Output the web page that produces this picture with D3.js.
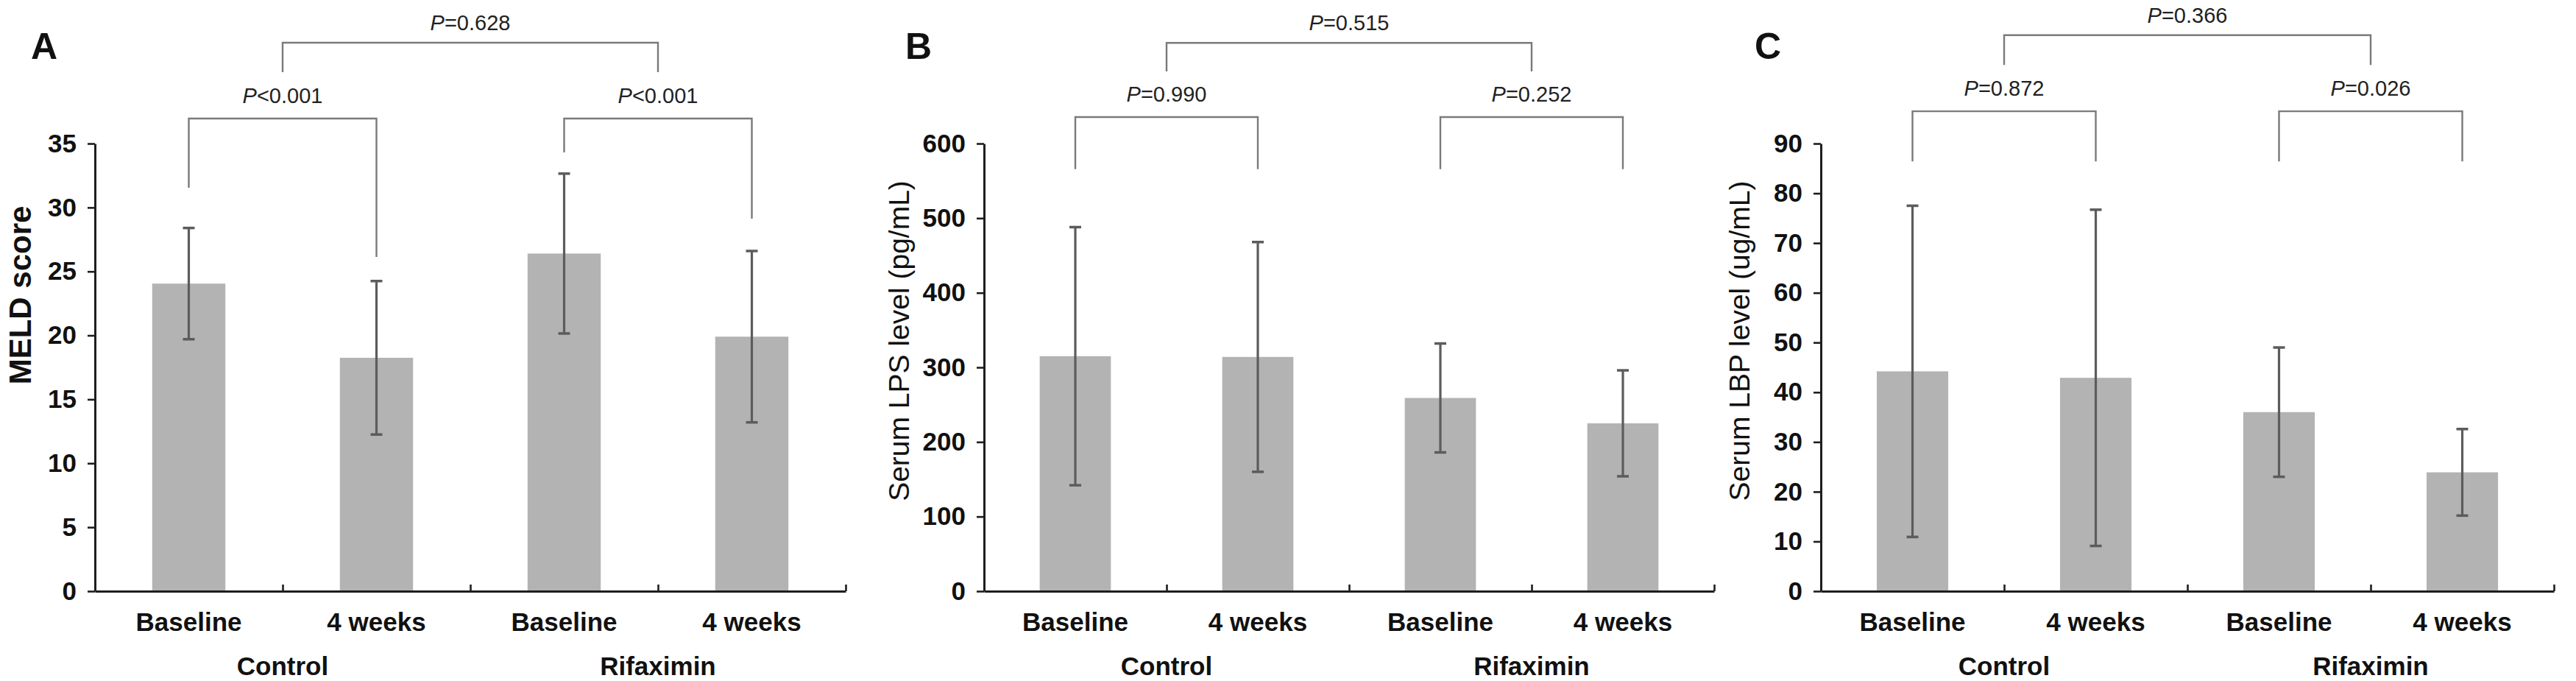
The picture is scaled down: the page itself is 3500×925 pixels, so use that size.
<!DOCTYPE html>
<html>
<head>
<meta charset="utf-8">
<script src="https://cdn.jsdelivr.net/npm/d3@7"></script>
<style>
  body { margin: 0; background: #fff; }
  svg text { font-family: Arial, "Liberation Sans", sans-serif; }
</style>
</head>
<body>
<div id="chart"></div>
<script>
// Data (mean +/- SD)
var categories = ["Baseline", "4 weeks", "Baseline", "4 weeks"];
var groups = ["Control", "Rifaximin"];

var meldMean = [24.05, 18.25, 26.4, 19.9];
var meldSd = [4.35, 6.0, 6.25, 6.7];
var meldTicks = [0, 5, 10, 15, 20, 25, 30, 35];
var meldP = ["<0.001", "<0.001", "=0.628"];

var lpsMean = [315, 314, 259, 225];
var lpsSd = [173, 154, 73, 71];
var lpsTicks = [0, 100, 200, 300, 400, 500, 600];
var lpsP = ["=0.990", "=0.252", "=0.515"];

var lbpMean = [44.2, 42.9, 36.0, 23.9];
var lbpSd = [33.3, 33.8, 13.0, 8.7];
var lbpTicks = [0, 10, 20, 30, 40, 50, 60, 70, 80, 90];
var lbpP = ["=0.872", "=0.026", "=0.366"];

// layout of each panel (bracket levels given in data units)
var panels = [
  {letter: "A", letterX: 42, x0: 129, w: 1020, ylabel: "MELD score", ylabelBold: true,
   labX: 27, labY: 401, labSize: 42, mean: meldMean, sd: meldSd, ticks: meldTicks, p: meldP,
   grp: 36.96, legs: [31.55, 26.14, 34.31, 29.13], top: 42.89, topLeg: 40.58},
  {letter: "B", letterX: 1230, x0: 1337, w: 992, ylabel: "Serum LPS level (pg/mL)", ylabelBold: false,
   labX: 1221, labY: 463, labSize: 39, mean: lpsMean, sd: lpsSd, ticks: lpsTicks, p: lpsP,
   grp: 635.5, legs: [565.8, 565.8, 565.8, 565.8], top: 735, topLeg: 696.7},
  {letter: "C", letterX: 2384, x0: 2474, w: 996, ylabel: "Serum LBP level (ug/mL)", ylabelBold: false,
   labX: 2363, labY: 463, labSize: 39, mean: lbpMean, sd: lbpSd, ticks: lbpTicks, p: lbpP,
   grp: 96.5, legs: [86.4, 86.4, 86.4, 86.4], top: 111.8, topLeg: 105.8}
];

var svgW = 3500, svgH = 925;
var yTop = 195, yBottom = 803;

var svg = d3.select("#chart").append("svg")
  .attr("width", svgW)
  .attr("height", svgH);

svg.append("rect").attr("width", svgW).attr("height", svgH).attr("fill", "#fff");

function drawPanel(pn) {
  var g = svg.append("g");
  var maxV = pn.ticks[pn.ticks.length - 1];

  var y = d3.scaleLinear().domain([0, maxV]).range([yBottom, yTop]);
  var idx = d3.range(categories.length);
  var x = d3.scaleBand().domain(idx).range([pn.x0, pn.x0 + pn.w])
    .paddingInner(0.61).paddingOuter(0.305);
  var xb = d3.scaleLinear().domain([0, categories.length]).range([pn.x0, pn.x0 + pn.w]);
  var cx = function(i) { return x(i) + x.bandwidth() / 2; };

  // bars
  g.selectAll(".bar").data(pn.mean).enter().append("rect")
    .attr("x", (d, i) => x(i))
    .attr("y", d => y(d))
    .attr("width", x.bandwidth())
    .attr("height", d => y(0) - y(d))
    .attr("fill", "#b3b3b3");

  // error bars
  var err = g.selectAll(".err").data(pn.mean).enter().append("g");
  err.append("line")
    .attr("x1", (d, i) => cx(i)).attr("x2", (d, i) => cx(i))
    .attr("y1", (d, i) => y(d - pn.sd[i])).attr("y2", (d, i) => y(d + pn.sd[i]))
    .attr("stroke", "#5c5c5c").attr("stroke-width", 3.2);
  [-1, 1].forEach(function(s) {
    err.append("line")
      .attr("x1", (d, i) => cx(i) - 8).attr("x2", (d, i) => cx(i) + 8)
      .attr("y1", (d, i) => y(d + s * pn.sd[i])).attr("y2", (d, i) => y(d + s * pn.sd[i]))
      .attr("stroke", "#5c5c5c").attr("stroke-width", 3.5);
  });

  // axes
  var yAxis = g.append("g")
    .attr("transform", `translate(${pn.x0},0)`)
    .call(d3.axisLeft(y).tickValues(pn.ticks).tickSize(10).tickSizeOuter(0).tickPadding(15));
  var xAxis = g.append("g")
    .attr("transform", `translate(0,${yBottom})`)
    .call(d3.axisBottom(xb).tickValues([1, 2, 3, 4]).tickSize(-9).tickSizeOuter(0).tickFormat(""));

  [yAxis, xAxis].forEach(function(a) {
    a.select(".domain").attr("stroke", "#1e1e1e").attr("stroke-width", 3);
    a.selectAll(".tick line").attr("stroke", "#1e1e1e").attr("stroke-width", 2.6);
  });
  yAxis.selectAll(".tick text")
    .attr("font-size", 35).attr("font-weight", "bold").attr("fill", "#111")
    .attr("font-family", "Arial, 'Liberation Sans', sans-serif");

  // category + group labels
  g.selectAll(".cat").data(categories).enter().append("text")
    .attr("x", (d, i) => cx(i))
    .attr("y", 857)
    .attr("text-anchor", "middle")
    .attr("font-size", 35).attr("font-weight", "bold").attr("fill", "#111")
    .text(d => d);
  g.selectAll(".grp").data(groups).enter().append("text")
    .attr("x", (d, i) => xb(1 + 2 * i))
    .attr("y", 917)
    .attr("text-anchor", "middle")
    .attr("font-size", 35).attr("font-weight", "bold").attr("fill", "#111")
    .text(d => d);

  // y label
  g.append("text")
    .attr("transform", `translate(${pn.labX},${pn.labY}) rotate(-90)`)
    .attr("text-anchor", "middle")
    .attr("dominant-baseline", "central")
    .attr("font-size", pn.labSize)
    .attr("font-weight", pn.ylabelBold ? "bold" : "normal")
    .attr("fill", "#111")
    .text(pn.ylabel);

  // panel letter
  g.append("text")
    .attr("x", pn.letterX).attr("y", 80)
    .attr("font-size", 50).attr("font-weight", "bold").attr("fill", "#111")
    .text(pn.letter);

  // significance brackets
  var bc = "#7a7a7a";
  function bracket(xa, xb2, level, endA, endB, label, gap) {
    var path = d3.path();
    path.moveTo(xa, y(endA));
    path.lineTo(xa, y(level));
    path.lineTo(xb2, y(level));
    path.lineTo(xb2, y(endB));
    g.append("path").attr("d", path.toString())
      .attr("fill", "none").attr("stroke", bc).attr("stroke-width", 2.4);
    var t = g.append("text")
      .attr("x", (xa + xb2) / 2)
      .attr("y", y(level) - gap)
      .attr("text-anchor", "middle")
      .attr("font-size", 29).attr("fill", "#222");
    t.append("tspan").attr("font-style", "italic").text("P");
    t.append("tspan").text(label);
  }
  bracket(cx(0), cx(1), pn.grp, pn.legs[0], pn.legs[1], pn.p[0], 21);
  bracket(cx(2), cx(3), pn.grp, pn.legs[2], pn.legs[3], pn.p[1], 21);
  bracket(xb(1), xb(3), pn.top, pn.topLeg, pn.topLeg, pn.p[2], 17);
}

panels.forEach(drawPanel);
</script>
</body>
</html>
